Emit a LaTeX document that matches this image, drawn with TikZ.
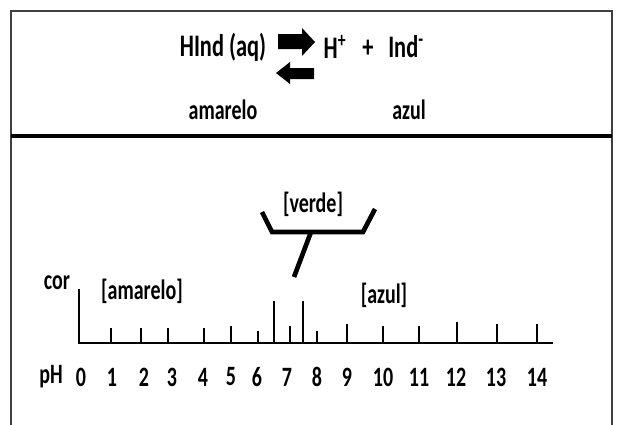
\documentclass[tikz,border=0pt]{standalone}
\usepackage{fontspec}
\setmainfont{Carlito}
\usetikzlibrary{calc}
\tikzset{
  txt/.style={inner sep=0pt, font=\fontsize{15}{18}\selectfont\bfseries, yscale=1.4},
  bigtxt/.style={txt, font=\fontsize{16.8}{20}\selectfont\bfseries},
  axisline/.style={line width=1.5pt},
  tickline/.style={line width=1.3pt}
}

\begin{document}
\begin{tikzpicture}[x=0.75pt, y=-0.75pt]
			%%%%% START %%%%%
			\useasboundingbox (0, 0) rectangle (619, 425);
			
			% frame
			\draw[line width=1.5pt, color=black!75] (11, 425) -- (11, 11) -- (612, 11) -- (612, 425);
			\draw[line width=3pt] (11, 136) -- (612, 136);
			
			% equilibrium
			\node[bigtxt] (hind) at (223, 47) {HInd (aq)};
			\fill (278, 34) -- (302, 34) -- (302, 28) -- (315, 42) -- (302, 56) -- (302, 49) -- (278, 49) -- cycle;
			\fill (314, 68) -- (290, 68) -- (290, 62) -- (276, 73) -- (290, 84) -- (290, 79) -- (314, 79) -- cycle;
			\node[bigtxt] (hplus) at (335, 47) {H\textsuperscript{+}};
			\node[bigtxt] (plus) at (368, 49) {+};
			\node[bigtxt] (ind) at (406, 47) {Ind\textsuperscript{-}};
			\node[txt] (amarelotop) at (223, 110) {amarelo};
			\node[txt] (azultop) at (409, 110) {azul};
			
			% verde bracket
			\node[txt] (verde) at (313, 204) {[verde]};
			\draw[line width=3.5pt] (262, 212) -- (272, 232) -- (363, 232) -- (375, 209);
			\draw[line width=3.5pt] (311, 232) -- (294, 277);
			
			% axis
			\node[txt] (cor) at (57, 283) {cor};
			\node[txt] (amarelo) at (142, 291) {[amarelo]};
			\node[txt] (azul) at (384, 295) {[azul]};
			\draw[axisline] (79, 289) -- (79, 343) -- (553, 343);
			
			\draw[tickline] (111, 343) -- (111, 328);
			\draw[tickline] (141, 343) -- (141, 328);
			\draw[tickline] (168, 343) -- (168, 328);
			\draw[tickline] (204, 343) -- (204, 328);
			\draw[tickline] (231, 343) -- (231, 326);
			\draw[tickline] (258, 343) -- (258, 331);
			\draw[tickline] (274, 343) -- (274, 301);
			\draw[tickline] (290, 343) -- (290, 326);
			\draw[tickline] (303, 343) -- (303, 301);
			\draw[tickline] (317, 343) -- (317, 331);
			\draw[tickline] (347, 343) -- (347, 324);
			\draw[tickline] (383, 343) -- (383, 326);
			\draw[tickline] (419, 343) -- (419, 326);
			\draw[tickline] (457, 343) -- (457, 322);
			\draw[tickline] (497, 343) -- (497, 324);
			\draw[tickline] (537, 343) -- (537, 324);
			
			% pH values
			\node[txt] (ph) at (51, 377) {pH};
			\node[txt] (ph0) at (81, 377) {0};
			\node[txt] (ph1) at (112, 377) {1};
			\node[txt] (ph2) at (144, 377) {2};
			\node[txt] (ph3) at (172, 377) {3};
			\node[txt] (ph4) at (203, 377) {4};
			\node[txt] (ph5) at (231, 377) {5};
			\node[txt] (ph6) at (257, 377) {6};
			\node[txt] (ph7) at (287, 377) {7};
			\node[txt] (ph8) at (317, 377) {8};
			\node[txt] (ph9) at (347, 377) {9};
			\node[txt] (ph10) at (383, 377) {10};
			\node[txt] (ph11) at (419, 377) {11};
			\node[txt] (ph12) at (456, 377) {12};
			\node[txt] (ph13) at (496, 377) {13};
			\node[txt] (ph14) at (537, 377) {14};
			%%%%% END %%%%%
\end{tikzpicture}
\end{document}
